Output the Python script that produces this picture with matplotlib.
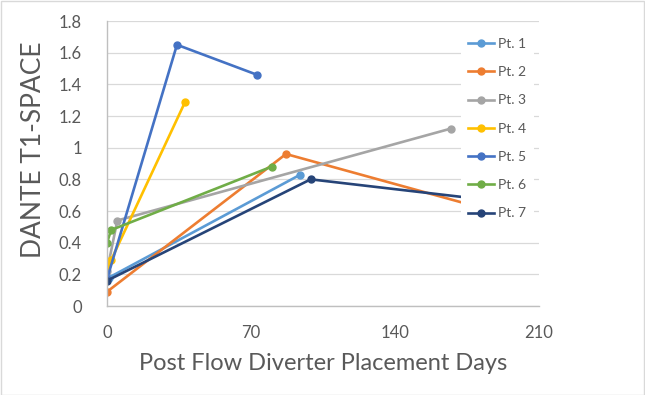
import matplotlib.pyplot as plt
from matplotlib.patches import Rectangle

# values (days, DANTE T1-SPACE)
names = ["Pt. 1", "Pt. 2", "Pt. 3", "Pt. 4", "Pt. 5", "Pt. 6", "Pt. 7"]
pt1_days = [1, 94]
pt1_vals = [0.18, 0.83]
pt2_days = [0, 87, 182]
pt2_vals = [0.09, 0.96, 0.62]
pt3_days = [0, 5, 167]
pt3_vals = [0.22, 0.54, 1.12]
pt4_days = [0, 2, 38]
pt4_vals = [0.26, 0.29, 1.29]
pt5_days = [0, 34, 73]
pt5_vals = [0.17, 1.65, 1.46]
pt6_days = [0, 2, 80]
pt6_vals = [0.40, 0.48, 0.88]
pt7_days = [0, 99, 185]
pt7_vals = [0.16, 0.80, 0.67]
colors = ["#5B9BD5", "#ED7D31", "#A5A5A5", "#FFC000", "#4472C4", "#70AD47", "#264478"]

days = [pt1_days, pt2_days, pt3_days, pt4_days, pt5_days, pt6_days, pt7_days]
vals = [pt1_vals, pt2_vals, pt3_vals, pt4_vals, pt5_vals, pt6_vals, pt7_vals]

plt.rcParams['font.family'] = ['Lato', 'DejaVu Sans']
txt = "#595959"

fig = plt.figure(figsize=(6.45, 3.95), dpi=100)
ax = fig.add_axes([0.1659, 0.2253, 0.6698, 0.7215])

for d, v, c, n in zip(days, vals, colors, names):
    ax.plot(d, v, color=c, lw=1.9, marker='o', markersize=5, label=n)

ax.set_xlim(0, 210)
ax.set_ylim(0, 1.8)
ax.set_xticks([0, 70, 140, 210])
ax.set_yticks([0, 0.2, 0.4, 0.6, 0.8, 1, 1.2, 1.4, 1.6, 1.8])
ax.set_yticklabels(["0", "0.2", "0.4", "0.6", "0.8", "1", "1.2", "1.4", "1.6", "1.8"])
ax.grid(axis='y', color="#D9D9D9", lw=0.9)
ax.set_axisbelow(True)
for s in ["top", "right"]:
    ax.spines[s].set_visible(False)
for s in ["left", "bottom"]:
    ax.spines[s].set_color("#BFBFBF")
    ax.spines[s].set_linewidth(1.0)
ax.tick_params(length=0, labelsize=12, colors=txt)
ax.tick_params(axis='y', pad=18)
ax.tick_params(axis='x', pad=14)

ax.set_xlabel("Post Flow Diverter Placement Days", fontsize=17, color=txt, labelpad=8)
ax.set_ylabel("DANTE T1-SPACE", fontsize=19, color=txt)
ax.yaxis.set_label_coords(-0.142, 0.55)

leg = ax.legend(loc='upper left', bbox_to_anchor=(461 / 645, 1 - 31 / 395),
                bbox_transform=fig.transFigure, frameon=True, fontsize=10,
                handlelength=1.9, labelspacing=1.17, borderpad=0.5,
                handletextpad=0.3, borderaxespad=0, labelcolor=txt)
leg.get_frame().set_edgecolor("none")
leg.get_frame().set_facecolor("white")
leg.get_frame().set_alpha(1)
leg.set_zorder(10)

fig.patches.append(Rectangle((0.001, 0.001), 0.997, 0.997, transform=fig.transFigure,
                             fill=False, edgecolor="#D9D9D9", lw=1))

fig.savefig("out.png", dpi=100)
